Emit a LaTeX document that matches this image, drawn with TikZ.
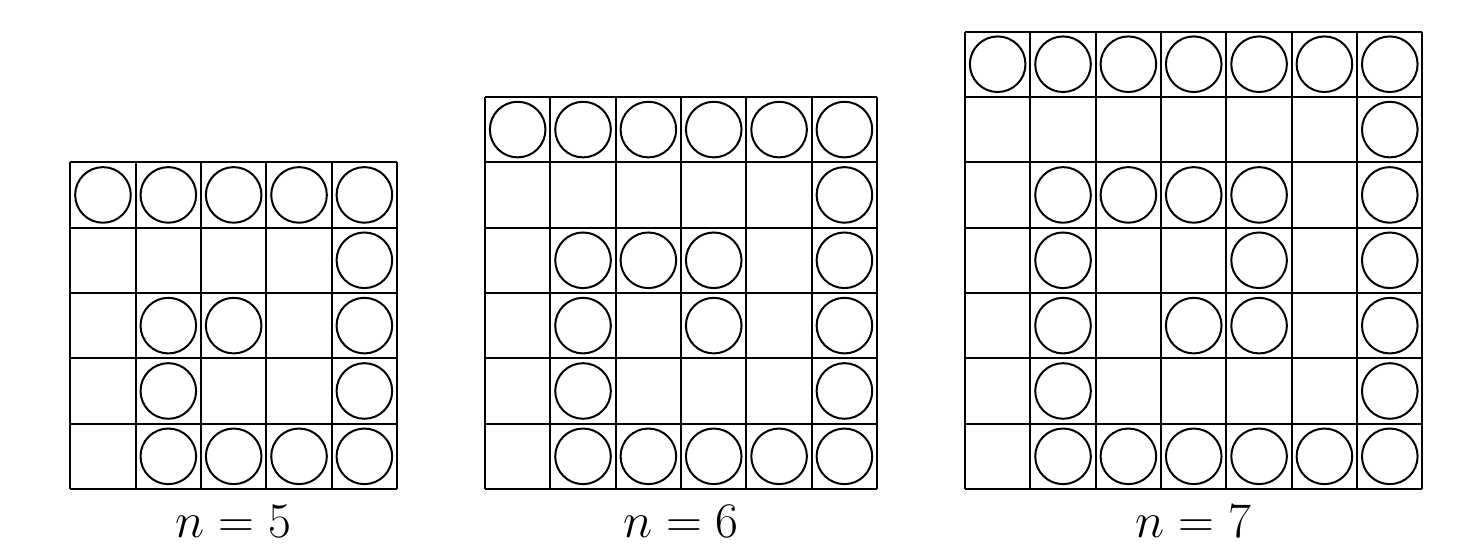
\documentclass[tikz,border=0pt]{standalone}
\begin{document}
\begin{tikzpicture}[x=0.5pt,y=-0.5pt,
  gridline/.style={line width=1pt},
  token/.style={line width=1pt},
  lbl/.style={anchor=base,font=\Huge}]
\useasboundingbox (0,0) rectangle (1481,557);
\def\cs{65.35}
\def\bot{489}
% grid n=5
\def\L{70.3}
\foreach \i in {0,...,5}{
  \draw[gridline] ({\L+\i*\cs},{\bot-5*\cs}) -- ({\L+\i*\cs},\bot);
  \draw[gridline] (\L,{\bot-\i*\cs}) -- ({\L+5*\cs},{\bot-\i*\cs});
}
\foreach \r/\c in {1/1,1/2,1/3,1/4,1/5,2/5,3/2,3/3,3/5,4/2,4/5,5/2,5/3,5/4,5/5}
  \draw[token] ({\L+(\c-0.5)*\cs},{\bot-(5-\r+0.5)*\cs}) circle[radius=13.9pt];
\node[lbl] (l5) at (233.5,537) {$n=5$};
% grid n=6
\def\L{485}
\foreach \i in {0,...,6}{
  \draw[gridline] ({\L+\i*\cs},{\bot-6*\cs}) -- ({\L+\i*\cs},\bot);
  \draw[gridline] (\L,{\bot-\i*\cs}) -- ({\L+6*\cs},{\bot-\i*\cs});
}
\foreach \r/\c in {1/1,1/2,1/3,1/4,1/5,1/6,2/6,3/2,3/3,3/4,3/6,4/2,4/4,4/6,5/2,5/6,6/2,6/3,6/4,6/5,6/6}
  \draw[token] ({\L+(\c-0.5)*\cs},{\bot-(6-\r+0.5)*\cs}) circle[radius=13.9pt];
\node[lbl] (l6) at (681,537) {$n=6$};
% grid n=7
\def\L{965}
\foreach \i in {0,...,7}{
  \draw[gridline] ({\L+\i*\cs},{\bot-7*\cs}) -- ({\L+\i*\cs},\bot);
  \draw[gridline] (\L,{\bot-\i*\cs}) -- ({\L+7*\cs},{\bot-\i*\cs});
}
\foreach \r/\c in {1/1,1/2,1/3,1/4,1/5,1/6,1/7,2/7,3/2,3/3,3/4,3/5,3/7,4/2,4/5,4/7,5/2,5/4,5/5,5/7,6/2,6/7,7/2,7/3,7/4,7/5,7/6,7/7}
  \draw[token] ({\L+(\c-0.5)*\cs},{\bot-(7-\r+0.5)*\cs}) circle[radius=13.9pt];
\node[lbl] (l7) at (1193.5,537) {$n=7$};
\end{tikzpicture}
\end{document}
